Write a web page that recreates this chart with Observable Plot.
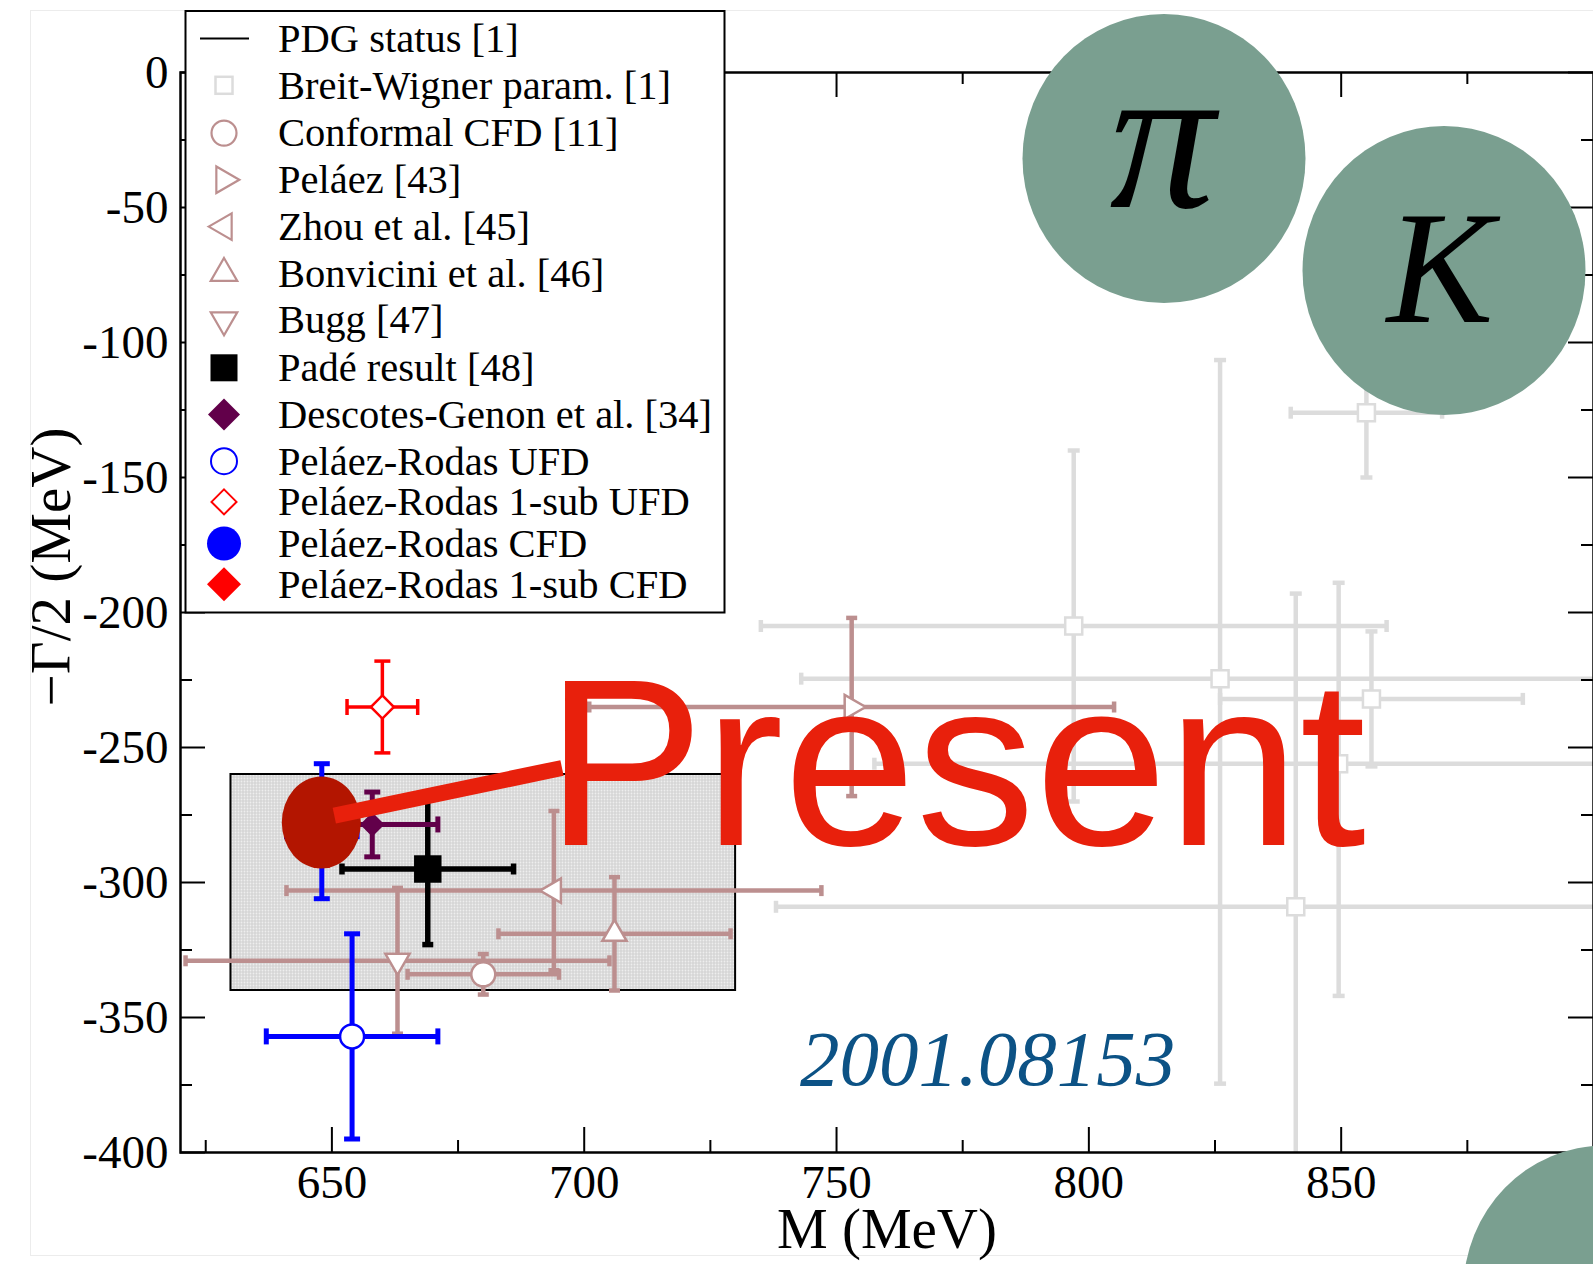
<!DOCTYPE html>
<html>
<head>
<meta charset="utf-8">
<script src="https://cdn.jsdelivr.net/npm/d3@7"></script>
<script src="https://cdn.jsdelivr.net/npm/@observablehq/plot@0.6"></script>
<style>
  html, body { margin: 0; padding: 0; background: #ffffff; }
  #chart { position: relative; width: 1593px; height: 1264px; overflow: hidden; }
  svg { display: block; }
</style>
</head>
<body>
<div id="chart"></div>
<script>
// ---------------- data ----------------
const xMajor = [650, 700, 750, 800, 850];
const xMinor = [625, 675, 725, 775, 825, 875];
const yMajor = [0, -50, -100, -150, -200, -250, -300, -350, -400];
const yMinor = [-25, -75, -125, -175, -225, -275, -325, -375];

// PDG status band (M range, -Gamma/2 range)
const pdgM = [630, 730];
const pdgG = [-340, -260];

// Breit-Wigner parameters [1]
const bwM    = [797, 826, 856, 855, 849.5, 841];
const bwG    = [-205, -224.5, -232, -126, -256, -309];
const bwMErr = [62, 83, 30, 15, 92, 103];
const bwGUp  = [65, 118, 25, 24, 67, 116];
const bwGDn  = [65, 150, 25, 24, 86, 116];

// pole determinations
const seriesNames = [
  "Conformal CFD [11]", "Peláez [43]", "Zhou et al. [45]", "Bonvicini et al. [46]", "Bugg [47]",
  "Padé result [48]", "Descotes-Genon et al. [34]", "Peláez-Rodas UFD", "Peláez-Rodas 1-sub UFD",
  "Peláez-Rodas CFD", "Peláez-Rodas 1-sub CFD"
];
const poleM    = [680, 753, 694, 706, 663, 669, 658, 654, 660, 648, 648];
const poleG    = [-334, -235, -303, -319, -329, -295, -278.5, -357, -235, -281, -280];
const poleMErr = [15, 52, 53, 23, 42, 17, 13, 17, 7, 7, 7];
const poleGErr = [7.5, 33, 29.5, 21, 27, 28, 12, 38, 17, 25, 14];

const legendNames = ["PDG status [1]", "Breit-Wigner param. [1]", ...seriesNames];
const presentCenter = [648, -278];

// ---------------- styles ----------------
const rose = "#bc8f8f", purple = "#62004a", gray = "#dcdcdc";
const styles = {
  "Conformal CFD [11]":        {symbol: "circle",   r: 12,   fill: "white", stroke: rose,  sw: 2.5, bar: rose, barW: 4.5, capL: 11, capW: 4.5},
  "Peláez [43]":               {symbol: "triangle", r: 9, rotate: 90,  fill: "white", stroke: rose, sw: 2.5, bar: rose, barW: 4.5, capL: 11, capW: 4.5},
  "Zhou et al. [45]":          {symbol: "triangle", r: 9, rotate: -90, fill: "white", stroke: rose, sw: 2.5, bar: rose, barW: 4.5, capL: 11, capW: 4.5},
  "Bonvicini et al. [46]":     {symbol: "triangle", r: 9, rotate: 0,   fill: "white", stroke: rose, sw: 2.5, bar: rose, barW: 4.5, capL: 11, capW: 4.5},
  "Bugg [47]":                 {symbol: "triangle", r: 9, rotate: 180, fill: "white", stroke: rose, sw: 2.5, bar: rose, barW: 4.5, capL: 11, capW: 4.5},
  "Padé result [48]":          {symbol: "square",   r: 15.5, fill: "black", stroke: "none", sw: 0, bar: "black", barW: 5.5, capL: 11, capW: 5.5},
  "Descotes-Genon et al. [34]":{symbol: "diamond2", r: 11,   fill: purple, stroke: "none", sw: 0, bar: purple, barW: 5, capL: 16, capW: 5},
  "Peláez-Rodas UFD":          {symbol: "circle",   r: 12,   fill: "white", stroke: "blue", sw: 2.5, bar: "blue", barW: 5, capL: 16, capW: 5},
  "Peláez-Rodas 1-sub UFD":    {symbol: "diamond2", r: 10.4, fill: "white", stroke: "red", sw: 2.5, bar: "red", barW: 3.5, capL: 16, capW: 3.5},
  "Peláez-Rodas CFD":          {symbol: "circle",   r: 17,   fill: "blue", stroke: "none", sw: 0, bar: "blue", barW: 5, capL: 16, capW: 5},
  "Peláez-Rodas 1-sub CFD":    {symbol: "diamond2", r: 15,   fill: "red", stroke: "none", sw: 0, bar: "red", barW: 3.5, capL: 16, capW: 3.5}
};

// ---------------- helpers ----------------
const hcap = {draw(ctx, size) { const r = Math.sqrt(size / Math.PI); ctx.moveTo(-r, 0); ctx.lineTo(r, 0); }};
const vcap = {draw(ctx, size) { const r = Math.sqrt(size / Math.PI); ctx.moveTo(0, -r); ctx.lineTo(0, r); }};

function errorBars(data, stroke, barW, capL, capW) {
  const capOpts = {stroke, strokeWidth: capW, fill: "none", r: capL / 2, clip: true, strokeLinecap: "butt"};
  return [
    Plot.ruleY(data, {y: "g", x1: d => d.m - d.mErr, x2: d => d.m + d.mErr, stroke, strokeWidth: barW, clip: true}),
    Plot.ruleX(data, {x: "m", y1: d => d.g - d.gDn, y2: d => d.g + d.gUp, stroke, strokeWidth: barW, clip: true}),
    Plot.dot(data, {x: d => d.m - d.mErr, y: "g", symbol: vcap, ...capOpts}),
    Plot.dot(data, {x: d => d.m + d.mErr, y: "g", symbol: vcap, ...capOpts}),
    Plot.dot(data, {x: "m", y: d => d.g + d.gUp, symbol: hcap, ...capOpts}),
    Plot.dot(data, {x: "m", y: d => d.g - d.gDn, symbol: hcap, ...capOpts})
  ];
}

const bwRows = bwM.map((m, i) => ({m, g: bwG[i], mErr: bwMErr[i], gUp: bwGUp[i], gDn: bwGDn[i]}));
const poleRows = seriesNames.map((name, i) => ({name, m: poleM[i], g: poleG[i], mErr: poleMErr[i], gUp: poleGErr[i], gDn: poleGErr[i]}));

const W = 1593, H = 1264, mL = 180, mR = 0, mT = 72, mB = 112;
const fw = W - mL - mR, fh = H - mT - mB;

const marks = [];
// PDG band
marks.push(Plot.rect([{x1: pdgM[0], x2: pdgM[1], y1: pdgG[0], y2: pdgG[1]}],
  {x1: "x1", x2: "x2", y1: "y1", y2: "y2", fill: "url(#pdgdots)", stroke: "black", strokeWidth: 2}));
// Breit-Wigner
marks.push(...errorBars(bwRows, gray, 4.5, 12, 4.5));
marks.push(Plot.dot(bwRows, {x: "m", y: "g", symbol: "square", r: 9.6, fill: "white", stroke: gray, strokeWidth: 2.5, clip: true}));
// poles
for (const row of poleRows) {
  const s = styles[row.name];
  marks.push(...errorBars([row], s.bar, s.barW, s.capL, s.capW));
  marks.push(Plot.dot([row], {x: "m", y: "g", symbol: s.symbol, r: s.r, rotate: s.rotate || 0,
    fill: s.fill, stroke: s.stroke, strokeWidth: s.sw, clip: true}));
}
// ticks (inward)
marks.push(
  Plot.ruleX(xMajor, {x: d => d, insetTop: fh - 25, stroke: "black", strokeWidth: 2}),
  Plot.ruleX(xMinor, {x: d => d, insetTop: fh - 12, stroke: "black", strokeWidth: 2}),
  Plot.ruleX(xMajor, {x: d => d, insetBottom: fh - 25, stroke: "black", strokeWidth: 2}),
  Plot.ruleX(xMinor, {x: d => d, insetBottom: fh - 12, stroke: "black", strokeWidth: 2}),
  Plot.ruleY(yMajor, {y: d => d, insetRight: fw - 25, stroke: "black", strokeWidth: 2}),
  Plot.ruleY(yMinor, {y: d => d, insetRight: fw - 12, stroke: "black", strokeWidth: 2}),
  Plot.ruleY(yMajor, {y: d => d, insetLeft: fw - 25, stroke: "black", strokeWidth: 2}),
  Plot.ruleY(yMinor, {y: d => d, insetLeft: fw - 12, stroke: "black", strokeWidth: 2}),
  Plot.frame({stroke: "black", strokeWidth: 2.5}),
  Plot.axisX({ticks: xMajor, tickSize: 0, tickPadding: 12, tickFormat: d => String(d), label: null, fontSize: 47}),
  Plot.axisY({ticks: yMajor, tickSize: 0, tickPadding: 12, tickFormat: d => String(d), label: null, fontSize: 47})
);

const plot = Plot.plot({
  width: W, height: H,
  marginLeft: mL, marginRight: mR, marginTop: mT, marginBottom: mB,
  x: {domain: [620, 900]},
  y: {domain: [-400, 0]},
  style: {fontFamily: "'Liberation Serif', 'Times New Roman', serif", fontSize: "47px", color: "black", background: "white", overflow: "visible"},
  marks
});
document.getElementById("chart").appendChild(plot);

// ---------------- annotations ----------------
const svg = d3.select(plot);
const xs = plot.scale("x"), ys = plot.scale("y");
const SERIF = "'Liberation Serif', 'Times New Roman', serif";

// dotted pattern for PDG band
const defs = svg.insert("defs", ":first-child");
const pat = defs.append("pattern").attr("id", "pdgdots").attr("patternUnits", "userSpaceOnUse")
  .attr("width", 3).attr("height", 3);
pat.append("rect").attr("width", 3).attr("height", 3).attr("fill", "#d6d6d6");
pat.append("circle").attr("cx", 1.5).attr("cy", 1.5).attr("r", 0.9).attr("fill", "#eeeeee");

// faint slide border
svg.append("rect").attr("x", 30.5).attr("y", 10.5).attr("width", 1600).attr("height", 1245)
  .attr("fill", "none").attr("stroke", "#ececec").attr("stroke-width", 1);

// axis labels
svg.append("text").attr("x", 887).attr("y", 1248).attr("text-anchor", "middle")
  .attr("font-size", 57).attr("font-family", SERIF).text("M (MeV)");
svg.append("text").attr("transform", "translate(70,567) rotate(-90)").attr("text-anchor", "middle")
  .attr("font-size", 57).attr("font-family", SERIF).text("−Γ/2 (MeV)");

// "Present" highlight
const pcx = xs.apply(presentCenter[0]), pcy = ys.apply(presentCenter[1]);
svg.append("ellipse").attr("cx", pcx).attr("cy", pcy).attr("rx", 39.5).attr("ry", 46).attr("fill", "#b31500");
svg.append("line").attr("x1", pcx + 13).attr("y1", pcy - 7).attr("x2", 562).attr("y2", 768)
  .attr("stroke", "#e8200c").attr("stroke-width", 16);
svg.append("text").attr("x", 545.6).attr("y", 845).attr("font-size", 238).attr("text-anchor", "start")
  .attr("font-family", "'Liberation Sans', Arial, sans-serif").attr("fill", "#e8200c").text("Present");

// arXiv id
svg.append("text").attr("x", 800).attr("y", 1085).attr("font-size", 79).attr("font-style", "italic")
  .attr("text-anchor", "start").attr("font-family", SERIF).attr("fill", "#0c5285").text("2001.08153");

// pi / K bubbles
const green = "#7a9f90";
svg.append("ellipse").attr("cx", 1164).attr("cy", 158.5).attr("rx", 141.5).attr("ry", 144.5).attr("fill", green);
svg.append("ellipse").attr("cx", 1444).attr("cy", 270.5).attr("rx", 141.5).attr("ry", 144.5).attr("fill", green);
svg.append("ellipse").attr("cx", 1605).attr("cy", 1290).attr("rx", 141.5).attr("ry", 144.5).attr("fill", green);
svg.append("text").attr("x", 1162).attr("y", 207).attr("text-anchor", "middle").attr("font-size", 210)
  .attr("font-style", "italic").attr("font-family", SERIF).text("π");
svg.append("text").attr("x", 1440).attr("y", 322).attr("text-anchor", "middle").attr("font-size", 160)
  .attr("font-style", "italic").attr("font-family", SERIF).text("K");

// ---------------- legend ----------------
const lg = svg.append("g");
lg.append("rect").attr("x", 185.5).attr("y", 11).attr("width", 539).attr("height", 601.5)
  .attr("fill", "white").attr("stroke", "black").attr("stroke-width", 2);
const rowY = [38.6, 85.3, 133.1, 179.8, 226.6, 273.3, 320, 367.8, 414.5, 461.2, 501.9, 543.5, 584.2];
const symX = 224;
const diamondPath = h => `M0,${-h}L${h},0L0,${h}L${-h},0Z`;
const triPath = d3.symbol(d3.symbolTriangle, 305)();
const legendSymbols = [
  g => g.append("line").attr("x1", -24).attr("x2", 25).attr("stroke", "black").attr("stroke-width", 2),
  g => g.append("rect").attr("x", -8.5).attr("y", -8.5).attr("width", 17).attr("height", 17).attr("fill", "white").attr("stroke", gray).attr("stroke-width", 2.5),
  g => g.append("circle").attr("r", 12.5).attr("fill", "white").attr("stroke", rose).attr("stroke-width", 2.2),
  g => g.append("path").attr("d", triPath).attr("transform", "rotate(90)").attr("fill", "white").attr("stroke", rose).attr("stroke-width", 2.2),
  g => g.append("path").attr("d", triPath).attr("transform", "rotate(-90)").attr("fill", "white").attr("stroke", rose).attr("stroke-width", 2.2),
  g => g.append("path").attr("d", triPath).attr("fill", "white").attr("stroke", rose).attr("stroke-width", 2.2),
  g => g.append("path").attr("d", triPath).attr("transform", "rotate(180)").attr("fill", "white").attr("stroke", rose).attr("stroke-width", 2.2),
  g => g.append("rect").attr("x", -13.5).attr("y", -13.5).attr("width", 27).attr("height", 27).attr("fill", "black"),
  g => g.append("path").attr("d", diamondPath(16)).attr("fill", purple),
  g => g.append("circle").attr("r", 13).attr("fill", "white").attr("stroke", "blue").attr("stroke-width", 2),
  g => g.append("path").attr("d", diamondPath(12.5)).attr("fill", "white").attr("stroke", "red").attr("stroke-width", 2),
  g => g.append("circle").attr("r", 17).attr("fill", "blue"),
  g => g.append("path").attr("d", diamondPath(17)).attr("fill", "red")
];
legendNames.forEach((name, i) => {
  const g = lg.append("g").attr("transform", `translate(${symX},${rowY[i]})`);
  legendSymbols[i](g);
  lg.append("text").attr("x", 278).attr("y", rowY[i]).attr("dy", "0.33em").attr("text-anchor", "start")
    .attr("font-size", 40.5).attr("font-family", SERIF).text(name);
});
</script>
</body>
</html>
